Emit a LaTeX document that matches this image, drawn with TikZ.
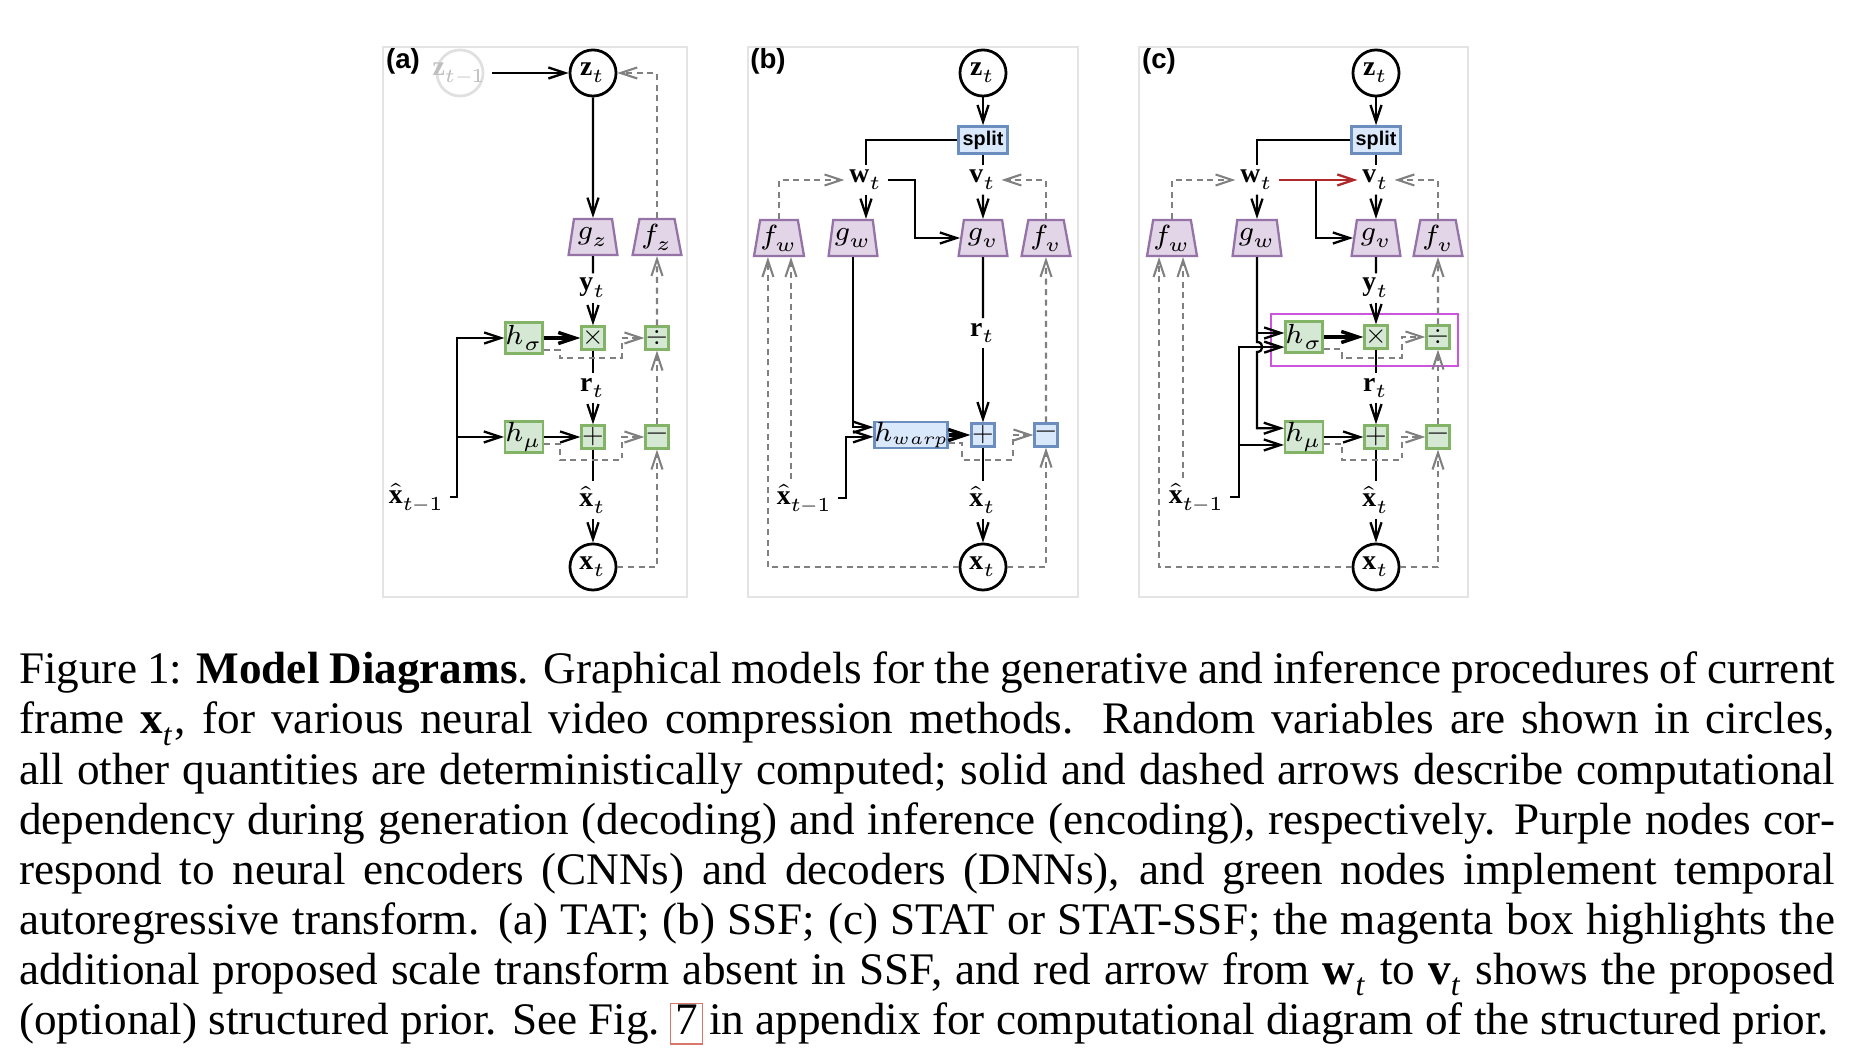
\documentclass[tikz,border=0pt]{standalone}
\usepackage{unicode-math}
\setmainfont{Liberation Serif}
\setmathfont{Latin Modern Math}
\newfontfamily\helv{Liberation Sans}
\DeclareMathSizes{6}{6}{4.3}{3.4}
\usetikzlibrary{arrows.meta,shapes.geometric,positioning}

\definecolor{encfill}{HTML}{E1D5E7}
\definecolor{encline}{HTML}{9673A6}
\definecolor{tatfill}{HTML}{D5E8D4}
\definecolor{tatline}{HTML}{82B366}
\definecolor{bluefill}{HTML}{DAE8FC}
\definecolor{blueline}{HTML}{6C8EBF}
\definecolor{infgray}{HTML}{808080}
\definecolor{panelgray}{HTML}{E4E4E4}
\definecolor{hilite}{HTML}{CC55DD}
\definecolor{prior}{HTML}{B0282A}
\definecolor{linkred}{HTML}{D9776C}

\tikzset{
  rv/.style={circle, draw, line width=0.6pt, minimum size=10pt, inner sep=0pt},
  enc/.style={trapezium, trapezium angle=77, trapezium stretches=true,
    minimum width=10.6pt, minimum height=7.8pt, inner sep=0pt, draw=encline, fill=encfill},
  tat/.style={draw=tatline, fill=tatfill, minimum size=6.7pt, inner sep=0pt},
  op/.style={tat, minimum size=5pt},
  opb/.style={op, draw=blueline, fill=bluefill},
  splitbox/.style={draw=blueline, fill=bluefill, minimum width=10.6pt, minimum height=5.9pt,
    inner sep=0pt, font=\fontsize{4.3}{5}\helv\bfseries},
  lbl/.style={inner sep=0.8pt},
  inf/.style={draw=infgray, line width=0.45pt, dash pattern=on 1.3pt off 1pt},
  thick arrow/.style={line width=0.75pt},
  panel/.style={draw=panelgray, line width=0.6pt},
  tag/.style={font=\fontsize{6}{7}\helv\bfseries},
}

\begin{document}
\begin{tikzpicture}[x=0.21698pt, y=-0.21698pt, line width=0.5pt,
  >={Straight Barb[length=3.6pt,width=2.4pt]}, font=\fontsize{6}{6.5}\selectfont]
\useasboundingbox (0,0) rectangle (1864,1064);
\foreach \l/\r/\t in {383/687/a, 748/1078/b, 1139/1468/c} {
  \draw[panel] (\l,47) rectangle (\r,597);
  \node[tag] (tag\t) at (\l+20,61) {(\t)};
}

% (a) TAT
\node[circle, draw=black!12, line width=0.6pt, minimum size=10pt] (zpa) at (460,73) {};
\node[lbl, text=black!25] (zpla) at (zpa) {$\mathbf{z}_{t-1}$};
\node[rv] (za) at (593,73) {$\mathbf{z}_t$};
\node[enc] (gza) at (593,237) {$g_z$};
\node[enc] (fza) at (657,237) {$f_z$};
\node[lbl] (yta) at (593,288) {$\mathbf{y}_t$};
\node[tat] (hsa) at (524,338) {$h_\sigma$};
\node[op] (mula) at (593,338) {$\times$};
\node[op] (diva) at (657,338) {$\div$};
\node[lbl] (rta) at (593,388) {$\mathbf{r}_t$};
\node[tat] (hma) at (524,437) {$h_\mu$};
\node[op] (adda) at (593,437) {$+$};
\node[op] (suba) at (657,437) {$-$};
\node[lbl] (xpa) at (417,497) {$\hat{\mathbf{x}}_{t-1}$};
\node[lbl] (xha) at (593,500) {$\hat{\mathbf{x}}_t$};
\node[rv] (xa) at (593,567) {$\mathbf{x}_t$};
\coordinate (ja) at (457,437);

\draw[->] (zpla) -- (za);
\draw[->] (za) -- (gza);
\draw (gza) -- (yta);
\draw[->] (yta) -- (mula);
\draw[->, thick arrow] (hsa) -- (mula);
\draw (mula) -- (rta);
\draw[->] (rta) -- (adda);
\draw[->] (hma) -- (adda);
\draw (adda) -- (xha);
\draw[->] (xha) -- (xa);
\draw[->] (xpa.east) -| (ja) |- (hsa);
\draw[->] (ja) -- (hma);
\draw[inf, ->] ([yshift=-2.6pt]hsa.east) -- ++(16,0) -- ++(0,8) -- ++(62,0) |- (diva);
\draw[inf, ->] ([yshift=-1.5pt]hma.east) -- ++(16,0) -- ++(0,16) -- ++(62,0) |- (suba);
\draw[inf, ->] (xa) -| (suba);
\draw[inf, ->] (suba) -- (diva);
\draw[inf, ->] (diva) -- (fza);
\draw[inf, ->] (fza) |- (za);

% (b) SSF
\node[rv] (zb) at (983,73) {$\mathbf{z}_t$};
\node[splitbox] (spb) at (983,140) {split};
\node[lbl] (wb) at (866,180) {$\mathbf{w}_t$};
\node[lbl] (vb) at (983,180) {$\mathbf{v}_t$};
\node[enc] (fwb) at (779,238) {$f_w$};
\node[enc] (gwb) at (853,238) {$g_w$};
\node[enc] (gvb) at (983,238) {$g_v$};
\node[enc] (fvb) at (1046,238) {$f_v$};
\node[lbl] (rtb) at (983,333) {$\mathbf{r}_t$};
\node[draw=blueline, fill=bluefill, minimum width=13.7pt, minimum height=5.6pt, inner sep=0pt] (hwb) at (911,435)
  {$h$\raisebox{-0.8pt}{\fontsize{3.7}{4}\selectfont$warp$}};
\node[opb] (addb) at (983,435) {$+$};
\node[opb] (subb) at (1046,435) {$-$};
\node[lbl] (xpb) at (805,498) {$\hat{\mathbf{x}}_{t-1}$};
\node[lbl] (xhb) at (983,500) {$\hat{\mathbf{x}}_t$};
\node[rv] (xb) at (983,567) {$\mathbf{x}_t$};
\coordinate (kb) at (915,180);

\draw[->] (zb) -- (spb);
\draw (spb) -| (wb);
\draw (spb) -- (vb);
\draw[->] (wb) -- (wb |- gwb.north);
\draw[->] (vb) -- (gvb);
\draw[->] (wb) -- (kb) |- (gvb);
\draw (gvb) -- (rtb);
\draw[->] (rtb) -- (addb);
\draw[->] (gwb) |- ([yshift=1.7pt]hwb.west);
\draw[->] (xpb.east) -- ++(8,0) |- ([yshift=-0.4pt]hwb.west);
\draw[->, thick arrow] (hwb) -- (addb);
\draw (addb) -- (xhb);
\draw[->] (xhb) -- (xb);
\draw[inf, ->] ([yshift=-1.7pt]hwb.east) -- ++(13,0) -- ++(0,17) -- ++(51,0) |- (subb);
\draw[inf, ->] (xb) -| (subb);
\draw[inf, ->] (subb) -- (fvb);
\draw[inf, ->] (fvb) |- (vb);
\draw[inf, ->] (fwb) |- (wb);
\draw[inf, ->] (xb) -| ([xshift=-2.4pt]fwb.south);
\draw[inf, ->] ([xshift=2.6pt]fwb.south |- xpb.north) -- ([xshift=2.6pt]fwb.south);

% (c) STAT / STAT-SSF
\node[rv] (zc) at (1376,73) {$\mathbf{z}_t$};
\node[splitbox] (spc) at (1376,140) {split};
\node[lbl] (wc) at (1257,180) {$\mathbf{w}_t$};
\node[lbl] (vc) at (1376,180) {$\mathbf{v}_t$};
\node[enc] (fwc) at (1172,238) {$f_w$};
\node[enc] (gwc) at (1257,238) {$g_w$};
\node[enc] (gvc) at (1376,238) {$g_v$};
\node[enc] (fvc) at (1438,238) {$f_v$};
\node[lbl] (ytc) at (1376,288) {$\mathbf{y}_t$};
\node[tat] (hsc) at (1304,337) {$h_\sigma$};
\node[op] (mulc) at (1376,337) {$\times$};
\node[op] (divc) at (1438,337) {$\div$};
\node[lbl] (rtc) at (1376,388) {$\mathbf{r}_t$};
\node[tat] (hmc) at (1304,437) {$h_\mu$};
\node[op] (addc) at (1376,437) {$+$};
\node[op] (subc) at (1438,437) {$-$};
\node[lbl] (xpc) at (1197,497) {$\hat{\mathbf{x}}_{t-1}$};
\node[lbl] (xhc) at (1376,500) {$\hat{\mathbf{x}}_t$};
\node[rv] (xc) at (1376,567) {$\mathbf{x}_t$};
\coordinate (kc) at (1316,180);
\coordinate (jc) at (1257,333);
\coordinate (jxc) at (1239,445);
\draw[hilite, line width=0.55pt] (1271,314) rectangle (1458,366);

\draw[->] (zc) -- (spc);
\draw (spc) -| (wc);
\draw (spc) -- (vc);
\draw[->] (wc) -- (gwc);
\draw[->] (vc) -- (gvc);
\draw[->] (kc) |- (gvc);
\draw[->, prior] (wc) -- (vc);
\draw (gvc) -- (ytc);
\draw[->] (ytc) -- (mulc);
\draw[->, thick arrow] (hsc) -- (mulc);
\draw (mulc) -- (rtc);
\draw[->] (rtc) -- (addc);
\draw[->] (hmc) -- (addc);
\draw (addc) -- (xhc);
\draw[->] (xhc) -- (xc);
\draw[->] (gwc) -- (1257,342) .. controls (1264,342) and (1264,352) .. (1257,352) |- ([yshift=1.9pt]hmc.west);
\draw[->] (jc) -- (jc -| hsc.west);
\draw[->] (xpc.east) -| (jxc) |- ([yshift=-2.2pt]hsc.west);
\draw[->] (jxc) -- (jxc -| hmc.west);
\draw[inf, ->] ([yshift=-2.6pt]hsc.east) -- ++(18,0) -- ++(0,9) -- ++(60,0) |- (divc);
\draw[inf, ->] ([yshift=-1.5pt]hmc.east) -- ++(18,0) -- ++(0,16) -- ++(60,0) |- (subc);
\draw[inf, ->] (xc) -| (subc);
\draw[inf, ->] (subc) -- (divc);
\draw[inf, ->] (divc) -- (fvc);
\draw[inf, ->] (fvc) |- (vc);
\draw[inf, ->] (fwc) |- (wc);
\draw[inf, ->] (xc) -| ([xshift=-2.8pt]fwc.south);
\draw[inf, ->] ([xshift=2.4pt]fwc.south |- xpc.north) -- ([xshift=2.4pt]fwc.south);

% caption
\node[anchor=base west, text width=394pt, inner sep=0pt, align=justify,
  font=\fontsize{9.8}{10.85}\selectfont] (cap) at (18,684) {\hyphenpenalty=10000 \tolerance=9999
Figure 1: \textbf{Model Diagrams}. Graphical models for the generative and inference procedures of current\linebreak
frame \textbf{x}\textsubscript{\textit{t}}, for various neural video compression methods.  Random variables are shown in circles,\linebreak
all other quantities are deterministically computed; solid and dashed arrows describe computational\linebreak
dependency during generation (decoding) and inference (encoding), respectively. Purple nodes cor-\linebreak
respond to neural encoders (CNNs) and decoders (DNNs), and green nodes implement temporal\linebreak
autoregressive transform. (a) TAT; (b) SSF; (c) STAT or STAT-SSF; the magenta box highlights the\linebreak
additional proposed scale transform absent in SSF, and red arrow from \textbf{w}\textsubscript{\textit{t}} to \textbf{v}\textsubscript{\textit{t}} shows the proposed\linebreak
(optional) structured prior. See Fig. \kern-1.2pt{\fboxsep=0pt\fboxrule=0.3pt\fcolorbox{linkred}{white}{\rule[-2pt]{0pt}{7.8pt}\kern0.9pt 7\kern0.9pt}}\kern-1.2pt{} in appendix for computational diagram of the structured prior.};
\end{tikzpicture}
\end{document}
